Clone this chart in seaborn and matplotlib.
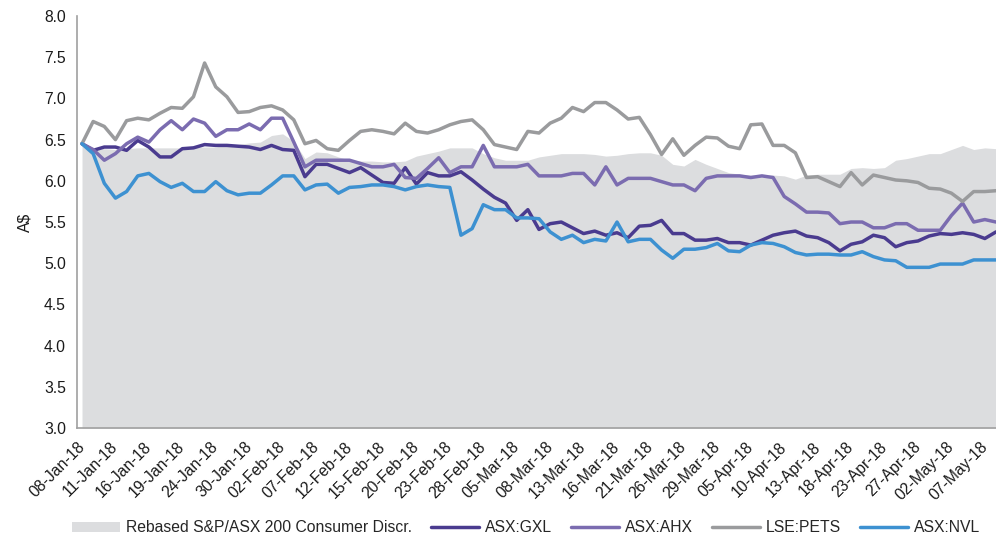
import numpy as np
import pandas as pd
import matplotlib
matplotlib.use("Agg")
import matplotlib.pyplot as plt
from matplotlib.patches import Patch
from matplotlib.lines import Line2D
import seaborn as sns

# ASX trading days, 08-Jan-18 to 08-May-18 (holidays removed)
holidays = ["2018-01-26", "2018-03-30", "2018-04-02", "2018-04-25"]
dates = pd.bdate_range("2018-01-08", "2018-05-08")
dates = dates[~dates.isin(pd.to_datetime(holidays))]

tick_labels = ["08-Jan-18", "11-Jan-18", "16-Jan-18", "19-Jan-18", "24-Jan-18", "30-Jan-18",
               "02-Feb-18", "07-Feb-18", "12-Feb-18", "15-Feb-18", "20-Feb-18", "23-Feb-18",
               "28-Feb-18", "05-Mar-18", "08-Mar-18", "13-Mar-18", "16-Mar-18", "21-Mar-18",
               "26-Mar-18", "29-Mar-18", "05-Apr-18", "10-Apr-18", "13-Apr-18", "18-Apr-18",
               "23-Apr-18", "27-Apr-18", "02-May-18", "07-May-18"]

# Rebased S&P/ASX 200 Consumer Discretionary (shaded area)
index_rebased = [6.45, 6.39, 6.39, 6.38, 6.39, 6.40, 6.40, 6.40, 6.40, 6.40,
                 6.41, 6.41, 6.41, 6.44, 6.44, 6.46, 6.47, 6.55, 6.57, 6.48,
                 6.27, 6.35, 6.34, 6.29, 6.25, 6.24, 6.24, 6.23, 6.23, 6.24,
                 6.30, 6.33, 6.36, 6.40, 6.40, 6.40, 6.33, 6.28, 6.25, 6.25,
                 6.25, 6.29, 6.31, 6.33, 6.33, 6.33, 6.32, 6.30, 6.31, 6.33,
                 6.34, 6.34, 6.31, 6.20, 6.18, 6.26, 6.20, 6.15, 6.10, 6.08,
                 6.07, 6.07, 6.07, 6.06, 6.02, 6.07, 6.08, 6.08, 6.08, 6.15,
                 6.16, 6.15, 6.16, 6.25, 6.27, 6.30, 6.33, 6.33, 6.38, 6.43,
                 6.38, 6.40, 6.39]

gxl = [6.45, 6.37, 6.41, 6.41, 6.37, 6.49, 6.41, 6.29, 6.29, 6.39,
       6.40, 6.44, 6.43, 6.43, 6.42, 6.41, 6.38, 6.43, 6.38, 6.37,
       6.05, 6.20, 6.20, 6.15, 6.10, 6.16, 6.07, 5.98, 5.97, 6.16,
       5.96, 6.10, 6.06, 6.06, 6.11, 6.01, 5.90, 5.80, 5.73, 5.52,
       5.65, 5.41, 5.48, 5.50, 5.43, 5.36, 5.39, 5.34, 5.37, 5.31,
       5.45, 5.46, 5.52, 5.36, 5.36, 5.28, 5.28, 5.30, 5.25, 5.25,
       5.22, 5.28, 5.34, 5.37, 5.39, 5.33, 5.31, 5.25, 5.15, 5.23,
       5.26, 5.34, 5.31, 5.20, 5.25, 5.27, 5.33, 5.36, 5.35, 5.37,
       5.35, 5.30, 5.38]

ahx = [6.45, 6.38, 6.25, 6.33, 6.45, 6.53, 6.47, 6.62, 6.73, 6.62,
       6.75, 6.70, 6.54, 6.62, 6.62, 6.69, 6.62, 6.76, 6.76, 6.47,
       6.17, 6.25, 6.25, 6.25, 6.25, 6.21, 6.17, 6.17, 6.20, 6.04,
       6.03, 6.15, 6.28, 6.10, 6.17, 6.17, 6.43, 6.17, 6.17, 6.17,
       6.20, 6.06, 6.06, 6.06, 6.09, 6.09, 5.95, 6.17, 5.95, 6.03,
       6.03, 6.03, 5.99, 5.95, 5.95, 5.88, 6.03, 6.06, 6.06, 6.06,
       6.04, 6.06, 6.04, 5.81, 5.72, 5.62, 5.62, 5.61, 5.48, 5.50,
       5.50, 5.43, 5.43, 5.48, 5.48, 5.40, 5.40, 5.40, 5.58, 5.73,
       5.50, 5.53, 5.50]

pets = [6.45, 6.72, 6.66, 6.50, 6.73, 6.76, 6.74, 6.82, 6.89, 6.88,
        7.02, 7.43, 7.14, 7.02, 6.83, 6.84, 6.89, 6.91, 6.86, 6.74,
        6.45, 6.49, 6.39, 6.37, 6.49, 6.60, 6.62, 6.60, 6.57, 6.70,
        6.60, 6.58, 6.62, 6.68, 6.72, 6.74, 6.62, 6.44, 6.41, 6.38,
        6.60, 6.58, 6.70, 6.76, 6.89, 6.84, 6.95, 6.95, 6.86, 6.75,
        6.77, 6.56, 6.32, 6.51, 6.31, 6.43, 6.53, 6.52, 6.42, 6.39,
        6.68, 6.69, 6.43, 6.43, 6.34, 6.04, 6.05, 5.99, 5.93, 6.10,
        5.95, 6.07, 6.04, 6.01, 6.00, 5.98, 5.91, 5.90, 5.85, 5.75,
        5.87, 5.87, 5.88]

nvl = [6.45, 6.33, 5.97, 5.79, 5.87, 6.06, 6.09, 5.99, 5.92, 5.97,
       5.87, 5.87, 5.99, 5.88, 5.83, 5.85, 5.85, 5.95, 6.06, 6.06,
       5.89, 5.95, 5.96, 5.85, 5.92, 5.93, 5.95, 5.95, 5.93, 5.89,
       5.93, 5.95, 5.93, 5.92, 5.34, 5.42, 5.71, 5.65, 5.65, 5.55,
       5.55, 5.54, 5.38, 5.29, 5.34, 5.25, 5.29, 5.27, 5.50, 5.26,
       5.29, 5.29, 5.16, 5.06, 5.17, 5.17, 5.19, 5.24, 5.15, 5.14,
       5.22, 5.25, 5.24, 5.20, 5.13, 5.10, 5.11, 5.11, 5.10, 5.10,
       5.14, 5.08, 5.04, 5.03, 4.95, 4.95, 4.95, 4.99, 4.99, 4.99,
       5.04, 5.04, 5.04]

series = [("ASX:GXL", gxl, "#4A3B8F"),
          ("ASX:AHX", ahx, "#7B6CB0"),
          ("LSE:PETS", pets, "#9A9B9D"),
          ("ASX:NVL", nvl, "#3D91D1")]
fill_color = "#DCDDDF"

sns.set_style("white")
plt.rcParams['font.family'] = ['Liberation Sans', 'DejaVu Sans']

pos = np.arange(len(dates))

fig = plt.figure(figsize=(9.96, 5.47), dpi=100)
ax = fig.add_axes([0.0773, 0.2175, 0.9227, 0.7532])

ax.fill_between(pos, index_rebased, 3.0, color=fill_color, linewidth=0, zorder=1)
for name, vals, col in series:
    sns.lineplot(x=pos, y=vals, color=col, linewidth=2.5, ax=ax, zorder=3)

ax.set_xlim(-0.45, 81.83)
ax.set_ylim(3.0, 8.0)
ax.set_yticks(np.arange(3.0, 8.01, 0.5))
ax.set_yticklabels([f"{v:.1f}" for v in np.arange(3.0, 8.01, 0.5)])
ax.set_xticks(np.arange(0, 82, 3))
ax.set_xticklabels(tick_labels, rotation=45, ha='right', va='center', rotation_mode='anchor')
ax.set_xticks(pos, minor=True)

for s in ['top', 'right']:
    ax.spines[s].set_visible(False)
for s in ['left', 'bottom']:
    ax.spines[s].set_color('#A0A0A0')
    ax.spines[s].set_linewidth(1.2)

ax.tick_params(axis='both', which='both', direction='out', length=4, width=1, color='#A0A0A0',
               labelsize=11.3, labelcolor='#1a1a1a')
ax.tick_params(axis='x', which='major', pad=8)
ax.tick_params(axis='y', which='major', pad=4)
ax.set_xlabel("")
ax.set_ylabel("A$", fontsize=11.3, color='#1a1a1a', labelpad=8)

handles = [Patch(facecolor=fill_color, edgecolor='none')]
labels = ["Rebased S&P/ASX 200 Consumer Discr."]
for name, vals, col in series:
    handles.append(Line2D([0], [0], color=col, linewidth=2.5))
    labels.append(name)
fig.legend(handles, labels, loc='center', bbox_to_anchor=(0.528, 0.035), ncol=5, frameon=False,
           fontsize=11.3, handlelength=3.1, handleheight=0.6, handletextpad=0.35, columnspacing=1.2)

fig.savefig("out.png", dpi=100)
